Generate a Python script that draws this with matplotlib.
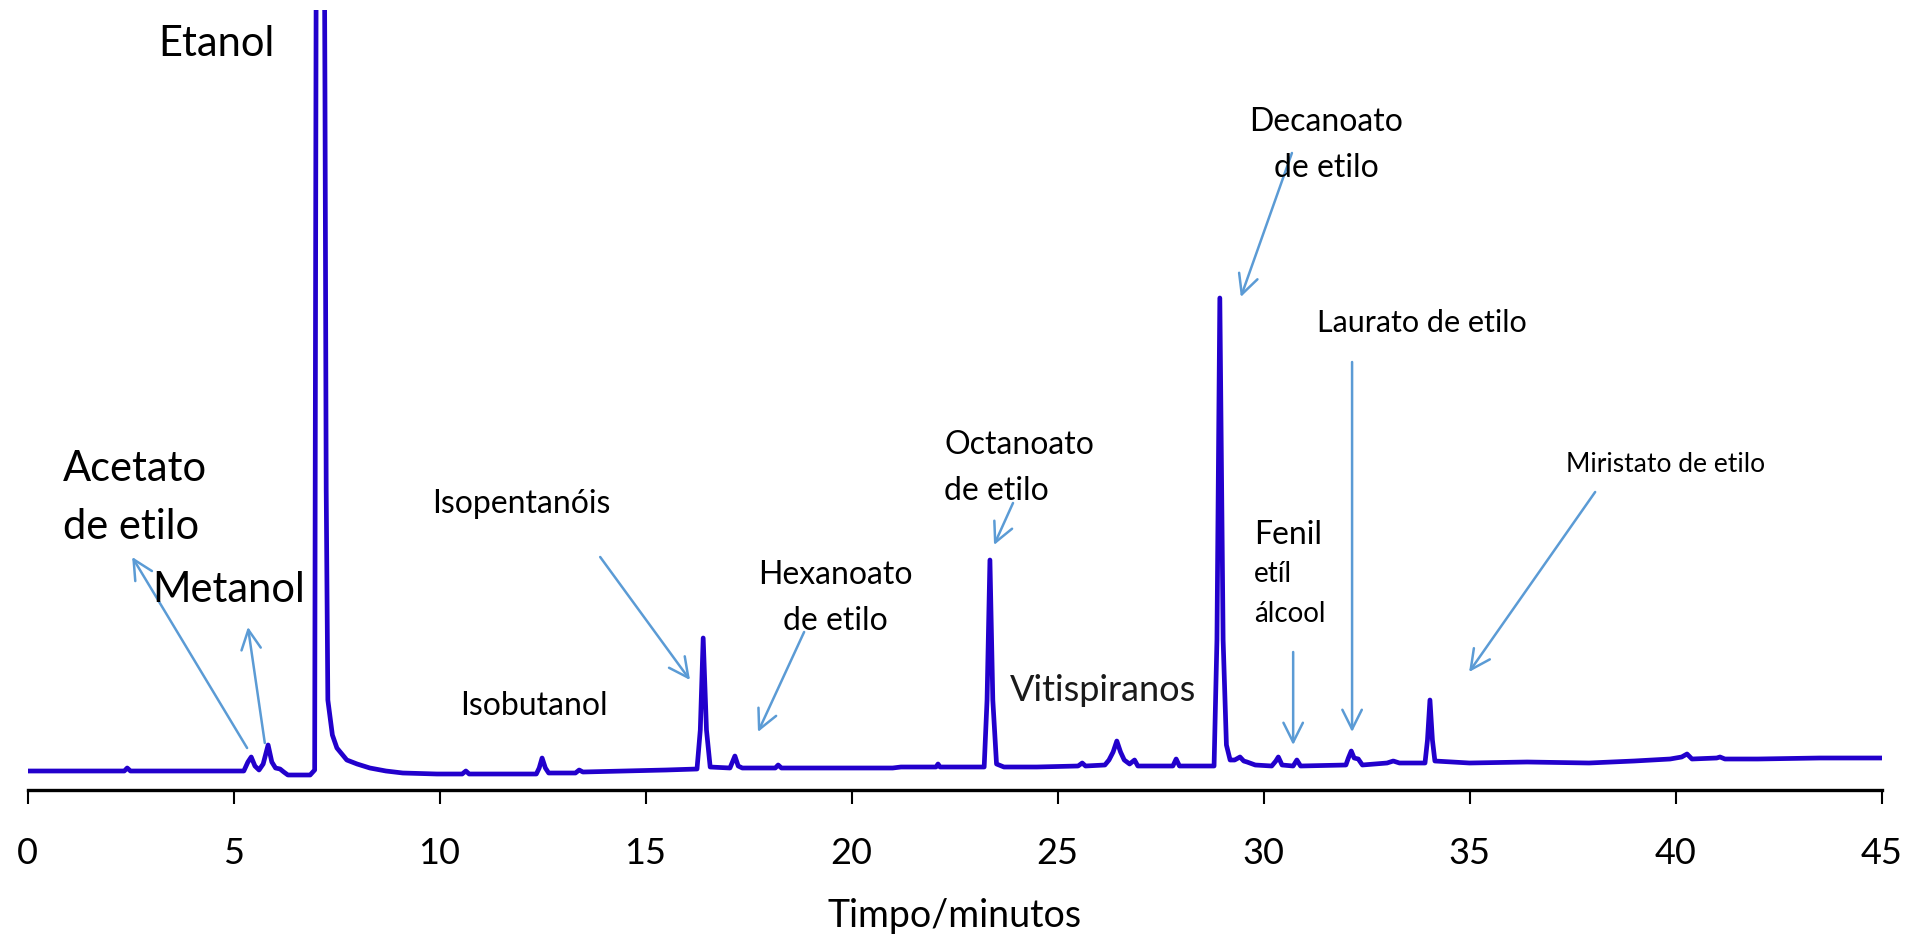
import matplotlib.pyplot as plt

plt.rcParams['font.family'] = ['Lato', 'DejaVu Sans']

# cromatograma: tempo (min) e sinal (unidades arbitrarias)
tempo = [0.0, 2.35, 2.42, 2.5, 5.25, 5.35, 5.43, 5.52, 5.62, 5.72, 5.84, 5.93,
         6.02, 6.13, 6.22, 6.32, 6.86, 6.97, 7.01, 7.2, 7.22, 7.25, 7.29, 7.4,
         7.51, 7.75, 8.0, 8.31, 8.7, 9.11, 9.94, 10.55, 10.64, 10.72, 12.35,
         12.42, 12.49, 12.57, 12.65, 13.3, 13.39, 13.48, 14.5, 15.5, 16.25,
         16.33, 16.4, 16.48, 16.57, 17.05, 17.1, 17.17, 17.25, 17.35, 18.15,
         18.22, 18.3, 20.0, 21.0, 21.2, 22.05, 22.1, 22.15, 23.22, 23.29, 23.36,
         23.43, 23.52, 23.7, 24.5, 25.5, 25.6, 25.68, 26.15, 26.25, 26.35, 26.44,
         26.53, 26.62, 26.75, 26.87, 26.95, 27.8, 27.88, 27.96, 28.8, 28.87,
         28.94, 29.02, 29.1, 29.19, 29.3, 29.43, 29.52, 29.6, 29.8, 30.2, 30.3,
         30.36, 30.45, 30.72, 30.81, 30.9, 32.0, 32.06, 32.13, 32.2, 32.3, 32.4,
         33.0, 33.15, 33.3, 33.92, 33.98, 34.04, 34.1, 34.16, 35.0, 36.4, 37.9,
         39.0, 39.87, 40.15, 40.28, 40.4, 41.0, 41.08, 41.2, 42.0, 43.5, 45.0]
sinal = [19, 19, 22, 19, 19, 28, 33, 24, 20, 26, 45, 28,
         22, 21, 18, 15, 15, 20, 900, 900, 700, 300, 90, 55,
         42, 30, 26, 22, 19, 17, 16, 16, 19, 16, 16,
         22, 32, 22, 17, 17, 20, 18, 19, 20, 21,
         60, 152, 60, 23, 22, 27, 34, 24, 22, 22,
         25, 22, 22, 22, 23, 23, 26, 23, 23, 90, 230,
         90, 26, 23, 23, 24, 27, 24, 25, 30, 38, 49,
         38, 30, 26, 30, 24, 24, 31, 24, 24, 150,
         492, 150, 45, 30, 30, 33, 29, 28, 25, 24, 29,
         33, 25, 24, 30, 24, 25, 32, 39, 32, 31, 25,
         27, 29, 27, 27, 50, 90, 50, 29, 27, 28, 27,
         29, 31, 33, 36, 31, 32, 33, 31, 31, 32, 32]

marcas_x = [0, 5, 10, 15, 20, 25, 30, 35, 40, 45]

# rotulos: (texto, x, y da ultima linha, tamanho, alinhamento)
rotulos = [
    ('Etanol', 4.58, 734, 30, 'center'),
    ('Acetato\nde etilo', 0.86, 251, 30, 'left'),
    ('Metanol', 3.02, 188, 30, 'left'),
    ('Isopentanóis', 9.82, 277, 23, 'left'),
    ('Isobutanol', 10.5, 75, 23, 'left'),
    ('Hexanoato\nde etilo', 19.62, 160, 23, 'center'),
    ('Octanoato\nde etilo', 22.25, 290, 23, 'left'),
    ('Fenil', 29.77, 246, 23, 'left'),
    ('etíl\nálcool', 29.77, 168, 20, 'left'),
    ('Decanoato\nde etilo', 31.52, 613, 23, 'center'),
    ('Laurato de etilo', 31.3, 458, 22, 'left'),
    ('Miristato de etilo', 37.34, 318, 19, 'left'),
]

# setas: (x origem, y origem, x ponta, y ponta)
setas = [
    (5.33, 42, 2.54, 233),
    (5.76, 47, 5.35, 163),
    (13.9, 233, 16.08, 110),
    (18.85, 158, 17.73, 58),
    (23.92, 287, 23.46, 245),
    (30.69, 637, 29.45, 493),
    (30.72, 138, 30.72, 45),
    (32.15, 428, 32.15, 58),
    (38.05, 298, 34.99, 118),
]

fig = plt.figure(figsize=(19.18, 9.35), dpi=100)
ax = fig.add_axes([27.5 / 1918, 145 / 935, 1854 / 1918, 780 / 935])

ax.plot(tempo, sinal, color='#2200cc', lw=3.4, solid_joinstyle='round')

for x0, y0, x1, y1 in setas:
    ax.annotate('', xy=(x1, y1), xytext=(x0, y0),
                arrowprops=dict(arrowstyle='->,head_length=0.7,head_width=0.35',
                                color='#5b9bd5', lw=1.8, mutation_scale=20,
                                shrinkA=0, shrinkB=0))

for texto, x, y, tam, ha in rotulos:
    ax.text(x, y, texto, fontsize=tam, ha=ha, va='baseline', ma=ha,
            linespacing=1.65, color='black')

ax.text(23.85, 89, 'Vitispiranos', fontsize=26, va='baseline', color='#1a1a1a')

ax.set_xlim(0, 45)
ax.set_ylim(0, 780)
ax.set_xticks(marcas_x)
ax.set_yticks([])
for s in ['left', 'top', 'right']:
    ax.spines[s].set_visible(False)
ax.spines['bottom'].set_linewidth(2.4)
ax.tick_params(axis='x', direction='out', length=10, width=1.5, pad=24,
               labelsize=26, labelcolor='black')
ax.set_xlabel('Timpo/minutos', fontsize=27, labelpad=20)

plt.savefig('out.png', dpi=100)
